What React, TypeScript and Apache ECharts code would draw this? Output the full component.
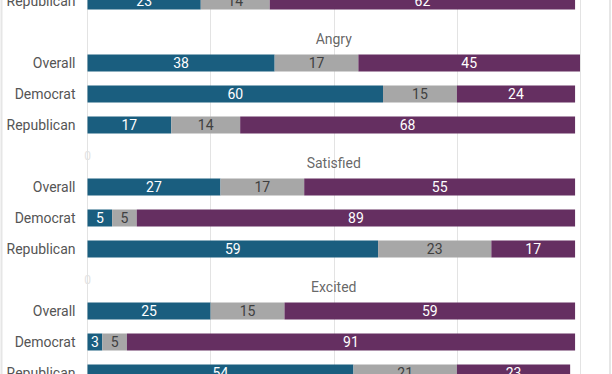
import React, { useEffect, useRef } from "react";
import * as echarts from "echarts";

// Partial row visible at the top (end of the previous group)
const prevLabel = "Republican";
const prevValues = [23, 14, 62];

const groups = ["Angry", "Satisfied", "Excited"];
const subgroups = ["Overall", "Democrat", "Republican"];

// values per group, in subgroup order (Overall, Democrat, Republican)
const tealValues = [
  [38, 60, 17],
  [27, 5, 59],
  [25, 3, 54],
];
const grayValues = [
  [17, 15, 14],
  [17, 5, 23],
  [15, 5, 21],
];
const purpleValues = [
  [45, 24, 68],
  [55, 89, 17],
  [59, 91, 23],
];

const xTicks = [0, 25, 50, 75, 100];

const TEAL = "#1a5e7f";
const GRAY = "#a7a7a7";
const PURPLE = "#652f61";
const FONT = "Roboto";

export default function App() {
  const ref = useRef<HTMLDivElement>(null);

  useEffect(() => {
    if (!ref.current) return;
    const chart = echarts.init(ref.current, null, { renderer: "svg" });

    const cats: string[] = [];
    const labels: string[] = [];
    const teal: any[] = [];
    const gray: any[] = [];
    const purple: any[] = [];
    const headers: any[] = [];

    cats.push("prev|" + prevLabel);
    labels.push(prevLabel);
    teal.push(prevValues[0]);
    gray.push(prevValues[1]);
    purple.push(prevValues[2]);

    groups.forEach((g, gi) => {
      const hIdx = cats.length;
      cats.push("hdr|" + g);
      labels.push("");
      if (gi > 0) {
        teal.push({ value: 0, label: { color: "#e2e2e2", fontSize: 12 } });
      } else {
        teal.push("-");
      }
      gray.push("-");
      purple.push("-");
      headers.push({ value: [xTicks[2], hIdx], name: g });
      subgroups.forEach((s, si) => {
        cats.push(g + "|" + s);
        labels.push(s);
        teal.push(tealValues[gi][si]);
        gray.push(grayValues[gi][si]);
        purple.push(purpleValues[gi][si]);
      });
    });

    const barLabel = (color: string) => ({
      show: true,
      position: "inside" as const,
      color,
      fontFamily: FONT,
      fontSize: 14,
    });

    chart.setOption({
      animation: false,
      textStyle: { fontFamily: FONT },
      grid: { left: 87.5, right: 32, top: 0.5, bottom: 0.5, containLabel: false },
      xAxis: {
        type: "value",
        min: xTicks[0],
        max: xTicks[xTicks.length - 1],
        interval: 25,
        axisLabel: { show: false },
        axisLine: { show: false },
        axisTick: { show: false },
        splitLine: { show: true, lineStyle: { color: "#e3e3e3", width: 1 } },
      },
      yAxis: {
        type: "category",
        inverse: true,
        data: cats,
        axisLine: { show: false },
        axisTick: { show: false },
        splitLine: { show: false },
        axisLabel: {
          margin: 12,
          color: "#555555",
          fontFamily: FONT,
          fontSize: 14,
          formatter: (_v: string, i: number) => labels[i],
        },
      },
      graphic: [
        {
          type: "rect",
          silent: true,
          shape: { x: 1.5, y: 0, width: 608.5, height: 404 },
          style: { fill: "none", stroke: "#e6e6e6", lineWidth: 2 },
        },
      ],
      series: [
        {
          name: "teal",
          type: "bar",
          stack: "total",
          barWidth: 17,
          data: teal,
          itemStyle: { color: TEAL },
          label: barLabel("#ffffff"),
        },
        {
          name: "gray",
          type: "bar",
          stack: "total",
          barWidth: 17,
          data: gray,
          itemStyle: { color: GRAY },
          label: barLabel("#404040"),
        },
        {
          name: "purple",
          type: "bar",
          stack: "total",
          barWidth: 17,
          data: purple,
          itemStyle: { color: PURPLE },
          label: barLabel("#ffffff"),
        },
        {
          name: "headers",
          type: "scatter",
          symbol: "rect",
          symbolSize: 1,
          itemStyle: { color: "rgba(0,0,0,0)" },
          data: headers,
          label: {
            show: true,
            position: "inside",
            offset: [0, 7],
            formatter: (p: any) => p.name,
            color: "#404040",
            fontFamily: FONT,
            fontSize: 14,
          },
          silent: true,
        },
      ],
    });

    return () => chart.dispose();
  }, []);

  return (
    <div style={{ position: "fixed", left: 0, top: 0, width: 612, height: 374, overflow: "hidden", background: "#fff" }}>
      <div
        ref={ref}
        style={{ position: "absolute", left: 0, top: -15, width: 612, height: 404 }}
      />
    </div>
  );
}
